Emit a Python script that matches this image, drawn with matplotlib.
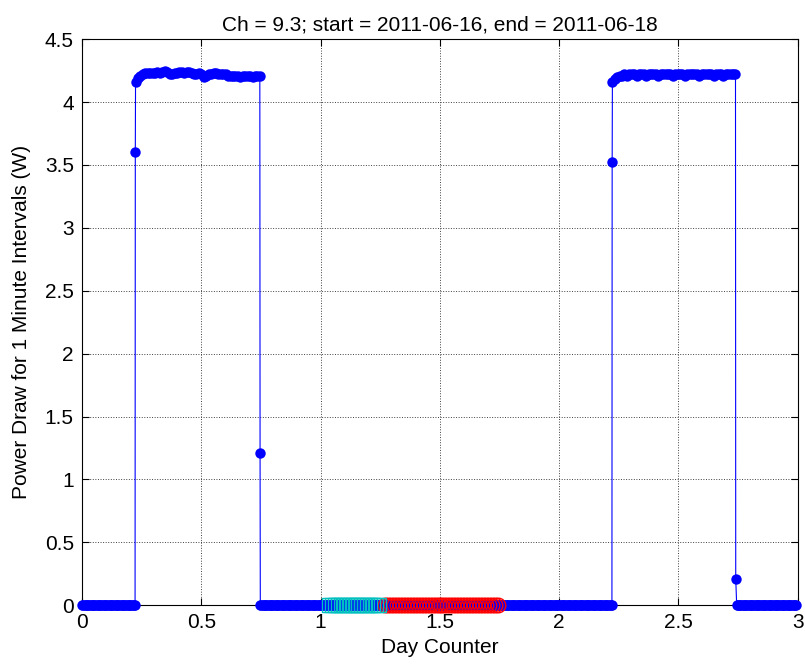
import numpy as np
import matplotlib.pyplot as plt

plt.rcParams['font.family'] = ['Liberation Sans', 'DejaVu Sans']

# off periods (power ~ 0 W), given as (first day, last day)
off_spans = [(0.0, 0.222), (0.747, 2.221), (2.744, 2.993)]

# first on period
rise1 = (0.223, 3.60)
plateau1_span = (0.224, 0.745)
plateau1 = [4.16, 4.19, 4.21, 4.22, 4.23, 4.23, 4.23, 4.23, 4.23, 4.24,
            4.23, 4.24, 4.25, 4.24, 4.22, 4.22, 4.23, 4.23, 4.24, 4.24,
            4.23, 4.24, 4.24, 4.23, 4.22, 4.22, 4.23, 4.22, 4.20, 4.21,
            4.22, 4.22, 4.23, 4.23, 4.22, 4.22, 4.22, 4.22, 4.21, 4.21,
            4.21, 4.21, 4.21, 4.20, 4.21, 4.21, 4.21, 4.21, 4.20, 4.21,
            4.21, 4.21]
drop1 = (0.746, 1.21)

# second on period
rise2 = (2.222, 3.52)
plateau2_span = (2.223, 2.739)
plateau2 = [4.16, 4.18, 4.20, 4.21, 4.21, 4.22, 4.21, 4.22, 4.22, 4.22,
            4.21, 4.22, 4.22, 4.22, 4.21, 4.22, 4.22, 4.22, 4.22, 4.21,
            4.22, 4.22, 4.22, 4.22, 4.22, 4.21, 4.22, 4.22, 4.22, 4.22,
            4.21, 4.22, 4.22, 4.22, 4.22, 4.22, 4.21, 4.22, 4.22, 4.22,
            4.22, 4.22, 4.21, 4.22, 4.22, 4.22, 4.21, 4.22, 4.22, 4.22,
            4.22, 4.22]
drop2 = (2.740, 0.21)

# flagged stretches of the off period
cyan_span = (1.035, 1.245)
red_span = (1.270, 1.743)


def zeros_between(start, end, step=0.005):
    n = int(round((end - start) / step)) + 1
    return np.linspace(start, end, n), np.zeros(n)


def levels_between(span, values):
    return np.linspace(span[0], span[1], len(values)), np.array(values)


pieces = [
    zeros_between(*off_spans[0]),
    (np.array([rise1[0]]), np.array([rise1[1]])),
    levels_between(plateau1_span, plateau1),
    (np.array([drop1[0]]), np.array([drop1[1]])),
    zeros_between(*off_spans[1]),
    (np.array([rise2[0]]), np.array([rise2[1]])),
    levels_between(plateau2_span, plateau2),
    (np.array([drop2[0]]), np.array([drop2[1]])),
    zeros_between(*off_spans[2]),
]
day = np.concatenate([p[0] for p in pieces])
power = np.concatenate([p[1] for p in pieces])

cyan_x, cyan_y = zeros_between(*cyan_span, step=0.0125)
red_x, red_y = zeros_between(*red_span, step=0.0125)

fig = plt.figure(figsize=(8.05, 6.65), dpi=100)
ax = fig.add_axes([0.102, 0.090, 0.889, 0.851])

ax.plot(day, power, '-o', color='b', lw=0.8, ms=7.5, mew=0,
        clip_on=False, zorder=3)
ax.plot(red_x, red_y, 'o', mfc='none', mec='r', ms=10.5, mew=1.0,
        clip_on=False, zorder=4)
ax.plot(cyan_x, cyan_y, 's', mfc='none', mec='c', ms=9.5, mew=1.0,
        clip_on=False, zorder=4)

ax.set_xlim(0, 3)
ax.set_ylim(0, 4.5)
ax.set_xticks(np.arange(0, 3.01, 0.5))
ax.set_yticks(np.arange(0, 4.51, 0.5))
ax.set_xticklabels(['0', '0.5', '1', '1.5', '2', '2.5', '3'])
ax.set_yticklabels(['0', '0.5', '1', '1.5', '2', '2.5', '3', '3.5', '4', '4.5'])
ax.grid(True, linestyle=':', color='0.25', lw=0.7)
ax.tick_params(direction='in', top=True, right=True, length=5, width=0.8,
               labelsize=15, pad=6)
for s in ax.spines.values():
    s.set_linewidth(0.8)

ax.set_xlabel('Day Counter', fontsize=15, labelpad=4)
ax.set_ylabel('Power Draw for 1 Minute Intervals (W)', fontsize=15, labelpad=10)
ax.set_title('Ch = 9.3; start = 2011-06-16, end = 2011-06-18', fontsize=15, pad=6)

fig.savefig('out.png', dpi=100)
